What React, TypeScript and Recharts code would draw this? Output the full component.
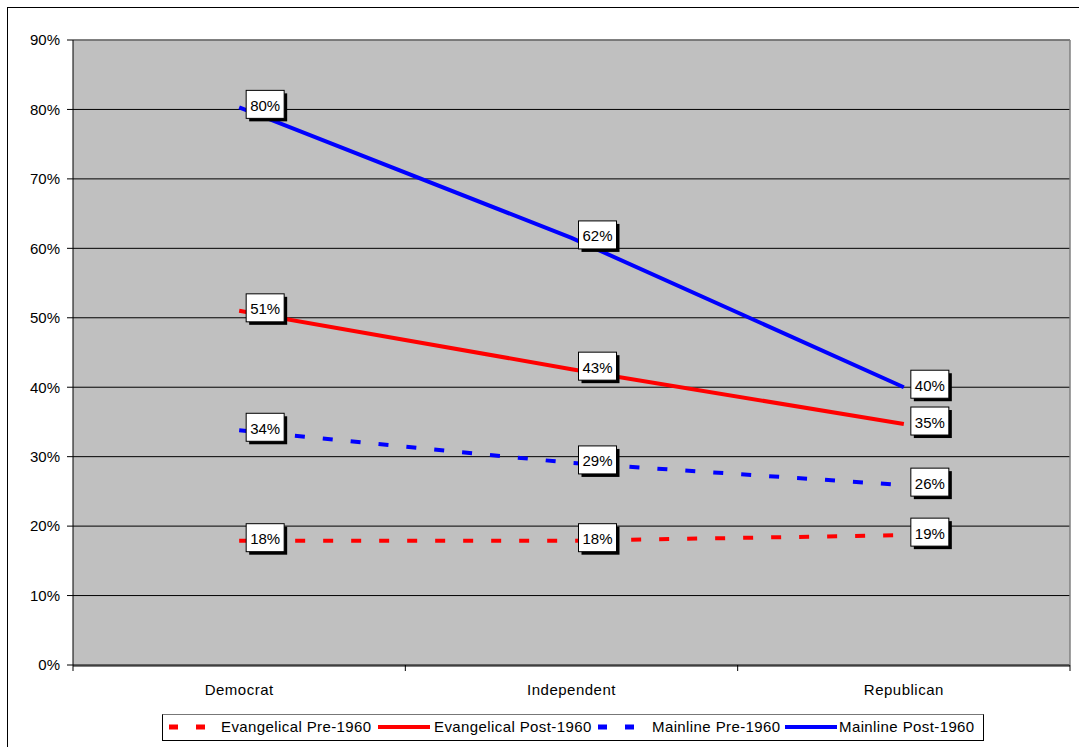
import React from 'react';
import { LineChart, Line, XAxis, YAxis, CartesianGrid, LabelList, ReferenceLine } from 'recharts';

const categories = ['Democrat', 'Independent', 'Republican'];
const evangelicalPre = [17.9, 17.9, 18.7];
const evangelicalPost = [51.0, 42.6, 34.7];
const mainlinePre = [33.8, 29.1, 25.9];
const mainlinePost = [80.3, 61.5, 40.0];
const yTicks = [0, 10, 20, 30, 40, 50, 60, 70, 80, 90];
const seriesNames = ['Evangelical Pre-1960', 'Evangelical Post-1960', 'Mainline Pre-1960', 'Mainline Post-1960'];

const data = categories.map((c, i) => ({
  category: c,
  idx: i + 0.5,
  evPre: evangelicalPre[i],
  evPost: evangelicalPost[i],
  mlPre: mainlinePre[i],
  mlPost: mainlinePost[i],
}));

const FONT = '"Liberation Sans", Arial, sans-serif';

const BoxLabel = (props: any) => {
  const { x, y, value } = props;
  if (x == null || y == null) return null;
  const w = 38;
  const h = 28;
  const bx = x + 7;
  const by = y - 17;
  return (
    <g>
      <rect x={bx + 3} y={by + 3} width={w} height={h} fill="#000" />
      <rect x={bx} y={by} width={w} height={h} fill="#fff" stroke="#000" strokeWidth={1} />
      <text
        x={bx + w / 2}
        y={by + h / 2 + 1}
        textAnchor="middle"
        dominantBaseline="central"
        fontSize={15}
        fontFamily={FONT}
        fill="#000"
      >
        {Math.round(value)}%
      </text>
    </g>
  );
};

const EmptyTick = () => <g />;

const series = [
  { key: 'evPre', color: '#FF0000', dashed: true },
  { key: 'evPost', color: '#FF0000', dashed: false },
  { key: 'mlPre', color: '#0000FF', dashed: true },
  { key: 'mlPost', color: '#0000FF', dashed: false },
];

const legendSampleLeft = [6, 215, 435, 622];
const legendTextLeft = [58, 271, 489, 676];

const PLOT_W = 1079 - 8 - 65 - 9;
const HALF_BAND = PLOT_W / categories.length / 2;

export default function App() {
  return (
    <div style={{ position: 'fixed', left: 0, top: 0, width: 1079, height: 747, overflow: 'hidden', background: '#fff', fontFamily: FONT }}>
      <div style={{ position: 'absolute', left: 7, top: 7, width: 2000, height: 2000, border: '1px solid #000' }} />
      <div style={{ position: 'absolute', left: 0, top: 0 }}>
        <LineChart width={1079} height={747} data={data} margin={{ top: 40, right: 9, left: 8, bottom: 52 }}>
          <CartesianGrid vertical={false} horizontal stroke="#000" strokeOpacity={1} fill="#C0C0C0" fillOpacity={1} xAxisId="bounds" />
          <XAxis
            xAxisId="bounds"
            type="number"
            dataKey="idx"
            domain={[0, 3]}
            ticks={[0, 1, 2, 3]}
            tick={EmptyTick}
            axisLine={false}
            tickLine={{ stroke: '#000' }}
            tickSize={6}
            height={1}
            allowDataOverflow
          />
          <XAxis
            xAxisId="cat"
            dataKey="category"
            type="category"
            padding={{ left: HALF_BAND, right: HALF_BAND }}
            axisLine={{ stroke: '#000' }}
            tickLine={false}
            tickSize={6}
            tickMargin={12}
            height={29}
            tick={{ fontSize: 15, fill: '#000', fontFamily: FONT, letterSpacing: 0.5 }}
          />
          <YAxis
            domain={[0, 90]}
            ticks={yTicks}
            tickFormatter={(v: number) => `${v}%`}
            width={65}
            axisLine={{ stroke: '#000' }}
            tickLine={{ stroke: '#000' }}
            tickSize={6}
            tickMargin={7}
            tick={{ fontSize: 15, fill: '#000', fontFamily: FONT }}
            interval={0}
          />
          <ReferenceLine y={90} stroke="#808080" strokeWidth={1.5} xAxisId="cat" />
          <ReferenceLine x={3} xAxisId="bounds" stroke="#808080" strokeWidth={1.5} />
          {series.map((s) => (
            <Line
              key={s.key}
              xAxisId="cat"
              dataKey={s.key}
              stroke={s.color}
              strokeWidth={4}
              strokeDasharray={s.dashed ? '10 18' : undefined}
              strokeLinecap="butt"
              dot={false}
              activeDot={false}
              isAnimationActive={false}
              type="linear"
            >
              <LabelList dataKey={s.key} content={BoxLabel} />
            </Line>
          ))}
        </LineChart>
      </div>
      <div
        style={{
          position: 'absolute',
          left: 162,
          top: 714,
          width: 822,
          height: 27,
          boxSizing: 'border-box',
          border: '1px solid #000',
          borderTopColor: '#777',
          background: '#fff',
        }}
      >
        {series.map((s, i) => (
          <React.Fragment key={s.key}>
            <svg
              width={52}
              height={10}
              style={{ position: 'absolute', left: legendSampleLeft[i], top: 7 }}
            >
              <line
                x1={0}
                y1={5}
                x2={s.dashed ? 50 : 52}
                y2={5}
                stroke={s.color}
                strokeWidth={s.dashed ? 5 : 4}
                strokeDasharray={s.dashed ? '9 18' : undefined}
              />
            </svg>
            <span
              style={{
                position: 'absolute',
                left: legendTextLeft[i],
                top: 3,
                fontSize: 15,
                lineHeight: '18px',
                letterSpacing: 0.4,
                color: '#000',
                whiteSpace: 'nowrap',
              }}
            >
              {seriesNames[i]}
            </span>
          </React.Fragment>
        ))}
      </div>
    </div>
  );
}
